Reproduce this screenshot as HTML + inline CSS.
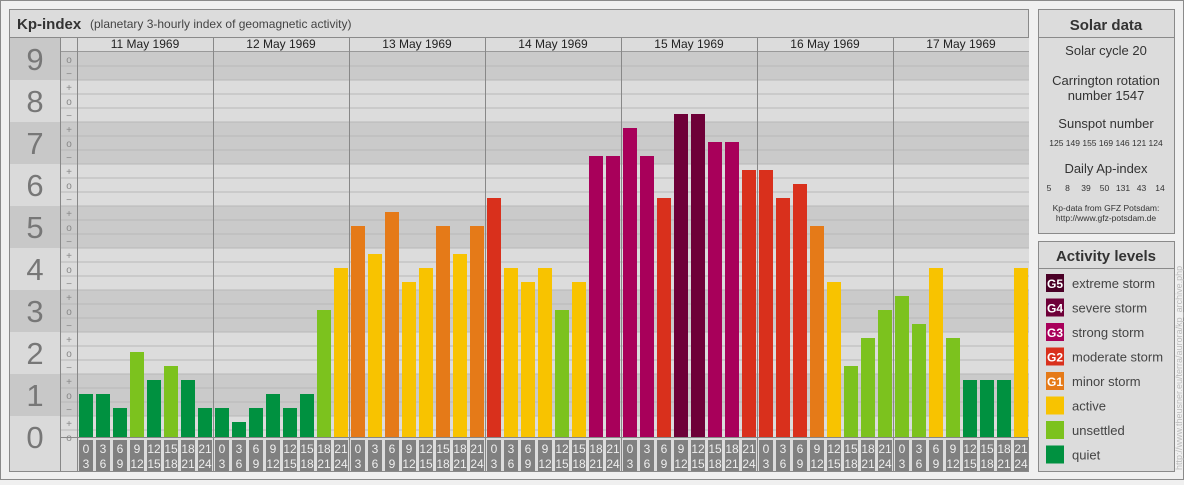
<!DOCTYPE html>
<html><head><meta charset="utf-8"><style>
html,body{margin:0;padding:0;background:#f0f0f0;}
body{width:1184px;height:480px;overflow:hidden;font-family:"Liberation Sans",sans-serif;}
</style></head><body>
<svg id="s" width="1184" height="480" xmlns="http://www.w3.org/2000/svg" font-family="Liberation Sans, sans-serif"></svg>
<script>
const s=document.getElementById('s');let h='';
const R=(x,y,w,hh,f,st)=>h+=`<rect x="${x}" y="${y}" width="${w}" height="${hh}" fill="${f}"${st?` stroke="${st}"`:''}/>`;
const T=(x,y,t,sz,f,a,w)=>h+=`<text x="${x}" y="${y}" font-size="${sz}" fill="${f}" text-anchor="${a||'start'}"${w?` font-weight="bold"`:''}>${t}</text>`;
R(0.5,0.5,1183,479,'#f0f0f0','#8a8a8a');
R(9.5,9.5,1019,462,'#dcdcdc','#8a8a8a');
R(9.5,9.5,1019,28,'#dcdcdc','#8a8a8a');
T(17,29,'Kp-index',15,'#333','start',1);
T(90,28,'(planetary 3-hourly index of geomagnetic activity)',12,'#444');
const Y=v=>437-14*v;
for(let n=0;n<=9;n++){let t=Math.max(51,Y(3*n+1.5)),b=Math.min(437,Y(3*n-1.5));
 R(10,t,51,(n==0?471:b)-t,n%2?'#c8c8c8':'#dadada');
 R(61,t,968,b-t,n%2?'#cacaca':'#dcdcdc');}
R(10,38,51,13,'#c8c8c8');R(61,38,968,13,'#dcdcdc');
for(let n=0;n<=9;n++)T(35,Y(3*n)+11,n,31,'#777','middle');
for(let v=0;v<=27;v++){let yl=Y(v)+7; if(v>0)h+=`<line x1="61" x2="1029" y1="${yl}" y2="${yl}" stroke="#b8b8b8" stroke-width="1"/>`;
 let k=v%3;T(69,Y(v)+4,k==0?'o':k==1?'+':'−',10,'#888','middle');}
h+=`<line x1="61" x2="1029" y1="51.5" y2="51.5" stroke="#999"/>`;
h+=`<line x1="60.5" x2="60.5" y1="38" y2="471" stroke="#888"/><line x1="77.5" x2="77.5" y1="38" y2="471" stroke="#888"/>`;
h+=`<line x1="61" x2="1029" y1="437.5" y2="437.5" stroke="#888"/>`;
const days=['11','12','13','14','15','16','17'];
const vals=[[3,3,2,6,4,5,4,2],[2,1,2,3,2,3,9,12],[15,13,16,11,12,15,13,15],[17,12,11,12,9,11,20,20],[22,20,17,23,23,21,21,19],[19,17,18,15,11,5,7,9],[10,8,12,7,4,4,4,12]];
const col=v=>v>=26?'#4a0026':v>=23?'#6e0038':v>=20?'#a8005a':v>=17?'#d9301c':v>=14?'#e57a18':v>=11?'#f8c300':v>=5?'#7cc21e':'#009140';
const lb=[['0','3'],['3','6'],['6','9'],['9','12'],['12','15'],['15','18'],['18','21'],['21','24']];
for(let d=0;d<7;d++){let x0=77+136*d;
 if(d>0)h+=`<line x1="${x0+.5}" x2="${x0+.5}" y1="38" y2="471" stroke="#888"/>`;
 T(x0+68,48,days[d]+' May 1969',12,'#222','middle');
 for(let i=0;i<8;i++){let v=vals[d][i],x=x0+17*i+2;R(x,Y(v)-1,14,14*v+1,col(v));
  R(x,440,14,31,'#808080');T(x+7,453,lb[i][0],12,'#eee','middle');T(x+7,468,lb[i][1],12,'#eee','middle');}}
R(1038.5,9.5,136,224,'#dcdcdc','#8a8a8a');h+=`<line x1="1038" x2="1175" y1="37.5" y2="37.5" stroke="#8a8a8a"/>`;
T(1106,30,'Solar data',15,'#333','middle',1);
T(1106,55,'Solar cycle 20',13,'#333','middle');
T(1106,85,'Carrington rotation',13,'#333','middle');T(1106,100,'number 1547',13,'#333','middle');
T(1106,128,'Sunspot number',13,'#333','middle');
T(1106,146,'125 149 155 169 146 121 124',8.5,'#333','middle');
T(1106,173,'Daily Ap-index',13,'#333','middle');
[5,8,39,50,131,43,14].forEach((v,i)=>T(1049+i*18.5,191,v,8.5,'#333','middle'));
T(1106,211,'Kp-data from GFZ Potsdam:',8.5,'#333','middle');T(1106,221,'http://www.gfz-potsdam.de',8.5,'#333','middle');
R(1038.5,241.5,136,230,'#dcdcdc','#8a8a8a');h+=`<line x1="1038" x2="1175" y1="268.5" y2="268.5" stroke="#8a8a8a"/>`;
T(1106,261,'Activity levels',15,'#333','middle',1);
const L=[['#4a0026','G5','extreme storm'],['#6e0038','G4','severe storm'],['#a8005a','G3','strong storm'],['#d9301c','G2','moderate storm'],['#e57a18','G1','minor storm'],['#f8c300','','active'],['#7cc21e','','unsettled'],['#009140','','quiet']];
L.forEach((l,i)=>{let y=274+i*24.5;R(1046,y,18,18,l[0]);if(l[1])T(1055,y+14,l[1],12,'#fff','middle',1);T(1072,y+14,l[2],13,'#444');});
h+=`<text transform="translate(1182,470) rotate(-90)" font-size="9" fill="#bbb">http://www.theusner.eu/terra/aurora/kp_archive.php</text>`;
s.innerHTML=h;
</script>
</body></html>
